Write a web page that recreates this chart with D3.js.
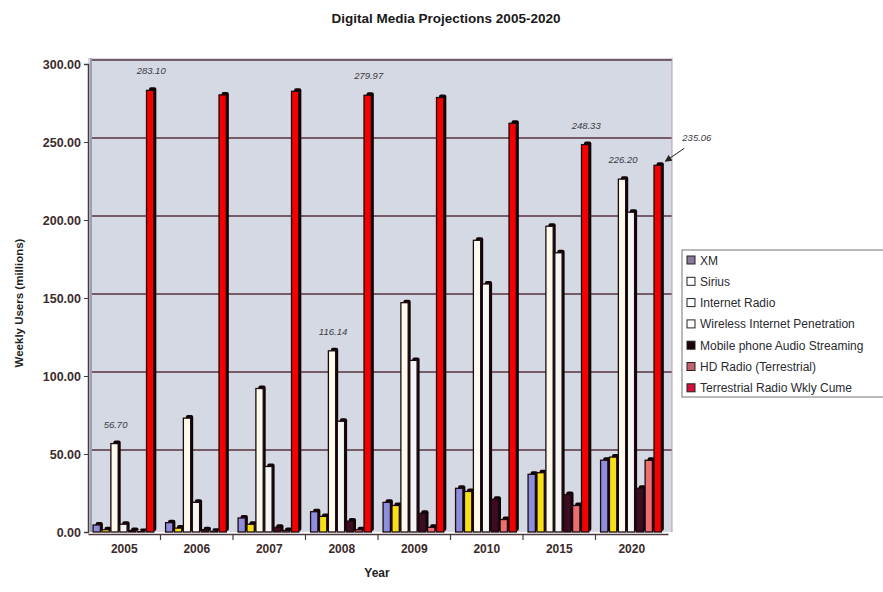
<!DOCTYPE html>
<html>
<head>
<meta charset="utf-8">
<script src="https://cdn.jsdelivr.net/npm/d3@7"></script>
<style>
  html, body { margin: 0; padding: 0; background: #ffffff; }
  svg { display: block; font-family: "Liberation Sans", Arial, sans-serif; }
</style>
</head>
<body>
<svg id="chart" width="883" height="592"></svg>
<script>
// Weekly users (millions) per audio platform, 2005-2020
const years = ["2005", "2006", "2007", "2008", "2009", "2010", "2015", "2020"];
const seriesNames = [
  "XM",
  "Sirius",
  "Internet Radio",
  "Wireless Internet Penetration",
  "Mobile  phone Audio Streaming",
  "HD Radio (Terrestrial)",
  "Terrestrial Radio Wkly Cume"
];
const xm          = [4.5, 6, 9, 13, 19, 28, 37, 46];
const sirius      = [1.5, 2.5, 5, 10, 17, 26, 38, 48];
const internet    = [56.70, 73, 92, 116.14, 147, 187, 196, 226.20];
const wireless    = [5, 19, 42, 71, 110, 159, 179, 205];
const mobile      = [1, 1.5, 3, 7, 12, 21, 24, 28];
const hdRadio     = [0.3, 0.5, 1, 1.5, 3, 8, 17, 46];
const terrestrial = [283.10, 280.2, 282.5, 279.97, 278.5, 262, 248.33, 235.06];
const yTicks = [0, 50, 100, 150, 200, 250, 300];

// Values printed above individual bars: [series index, year index]
const valueLabels = [[2, 0], [6, 0], [2, 3], [6, 3], [6, 6], [2, 7]];
// Value called out with an arrow to the right of the plot
const calloutLabel = [6, 7];

const seriesValues = [xm, sirius, internet, wireless, mobile, hdRadio, terrestrial];
const barColors = ["#8e8edc", "#f7e018", "#fffbec", "#f3f6f4", "#3c0c22", "#ee6e70", "#f50000"];
const swatchColors = ["#8a7a98", "#ffffff", "#ffffff", "#ffffff", "#1c0008", "#c2606e", "#d3103a"];

const svg = d3.select("#chart");
const plot = { left: 88, right: 668, top: 64, bottom: 532 };
const depth = 3;          // offset of the back wall / bar sides
const ink = "#3b2b2b";

const x0 = d3.scaleBand().domain(years).range([plot.left, plot.right])
  .paddingInner(0.14).paddingOuter(0.07);
const x1 = d3.scaleBand().domain(d3.range(seriesNames.length)).range([0, x0.bandwidth()]);
const y = d3.scaleLinear().domain([0, 300]).range([plot.bottom, plot.top]);

// Title
svg.append("text")
  .attr("x", 446).attr("y", 23)
  .attr("text-anchor", "middle")
  .attr("font-size", 13.5).attr("font-weight", "bold")
  .attr("fill", "#1a1a1a")
  .text("Digital Media Projections 2005-2020");

// Plot background (back wall)
svg.append("rect")
  .attr("x", plot.left).attr("y", plot.top - 6)
  .attr("width", plot.right - plot.left + 4)
  .attr("height", plot.bottom - plot.top + 6)
  .attr("fill", "#d5d9e3");

// Horizontal gridlines on the back wall
svg.append("g").selectAll("line")
  .data(yTicks.filter(d => d > 0))
  .join("line")
  .attr("x1", plot.left + depth).attr("x2", plot.right + 4)
  .attr("y1", d => y(d) - depth - 1).attr("y2", d => y(d) - depth - 1)
  .attr("stroke", "#56323f").attr("stroke-width", 1.5);

// Right edge of the wall
svg.append("line")
  .attr("x1", plot.right + 4).attr("x2", plot.right + 4)
  .attr("y1", plot.top - 6).attr("y2", plot.bottom)
  .attr("stroke", "#b89aa6").attr("stroke-width", 1);

// Y axis
const yAxis = d3.axisLeft(y).tickValues(yTicks).tickSize(4).tickPadding(3)
  .tickFormat(d3.format(".2f"));
const yg = svg.append("g").attr("transform", `translate(${plot.left},0)`).call(yAxis);
yg.select(".domain").attr("stroke", "#4a3a40").attr("stroke-width", 1.5);
yg.selectAll(".tick line").attr("stroke", "#4a3a40");
yg.selectAll(".tick text")
  .attr("font-size", 12.5).attr("font-weight", "bold").attr("fill", ink)
  .attr("font-family", "'Liberation Sans', Arial, sans-serif");
svg.append("line")
  .attr("x1", plot.left + 3).attr("x2", plot.left + 3)
  .attr("y1", plot.top - 6).attr("y2", plot.bottom)
  .attr("stroke", "#9aa0b4").attr("stroke-width", 2);

// X axis (category floor)
const xAxis = d3.axisBottom(x0).tickSize(0).tickPadding(10);
const xg = svg.append("g").attr("transform", `translate(0,${plot.bottom + 2})`).call(xAxis);
xg.select(".domain").attr("stroke", "#4a3a40").attr("stroke-width", 1.5);
xg.selectAll(".tick text")
  .attr("font-size", 12).attr("font-weight", "bold").attr("fill", ink)
  .attr("font-family", "'Liberation Sans', Arial, sans-serif");
// Category separators
svg.append("g").selectAll("line")
  .data(years.slice(1))
  .join("line")
  .attr("x1", d => x0(d) - x0.step() * x0.paddingInner() / 2)
  .attr("x2", d => x0(d) - x0.step() * x0.paddingInner() / 2)
  .attr("y1", plot.bottom + 2).attr("y2", plot.bottom + 8)
  .attr("stroke", "#4a3a40").attr("stroke-width", 1.2);

// Axis titles
svg.append("text")
  .attr("x", 377).attr("y", 577)
  .attr("text-anchor", "middle")
  .attr("font-size", 12).attr("font-weight", "bold").attr("fill", "#1e1e1e")
  .text("Year");
svg.append("text")
  .attr("transform", "translate(23,303) rotate(-90)")
  .attr("text-anchor", "middle")
  .attr("font-size", 11.5).attr("font-weight", "bold").attr("fill", "#1e1e1e")
  .text("Weekly Users (millions)");

// Bars with a dark side/top to give a shallow 3D look
const barRows = [];
years.forEach((yr, yi) => {
  seriesValues.forEach((vals, si) => {
    barRows.push({ year: yr, yi, si, value: vals[yi] });
  });
});
const side = 3;
const bodyW = x1.bandwidth() - 1.6;
const barG = svg.append("g");
const barSel = barG.selectAll("g.bar").data(barRows).join("g").attr("class", "bar");
barSel.append("rect")
  .attr("x", d => x0(d.year) + x1(d.si) + side - 0.5)
  .attr("y", d => y(d.value) - side)
  .attr("width", bodyW)
  .attr("height", d => Math.max(0, plot.bottom - y(d.value) + side - 1))
  .attr("rx", 2)
  .attr("fill", "#100306");
barSel.append("rect")
  .attr("x", d => x0(d.year) + x1(d.si))
  .attr("y", d => y(d.value))
  .attr("width", bodyW)
  .attr("height", d => Math.max(0, plot.bottom - y(d.value)))
  .attr("fill", d => barColors[d.si])
  .attr("stroke", "#1a0a0e").attr("stroke-width", 1.3);

// Value labels
const barCenter = (si, yi) => x0(years[yi]) + x1(si) + bodyW / 2 + 1;
svg.append("g").selectAll("text")
  .data(valueLabels)
  .join("text")
  .attr("x", d => barCenter(d[0], d[1]))
  .attr("y", d => y(seriesValues[d[0]][d[1]]) - 16)
  .attr("text-anchor", "middle")
  .attr("font-size", 9.5).attr("font-style", "italic").attr("fill", "#3a3a44")
  .text(d => seriesValues[d[0]][d[1]].toFixed(2));

// Callout with arrow
const cv = seriesValues[calloutLabel[0]][calloutLabel[1]];
const cx = x0(years[calloutLabel[1]]) + x1(calloutLabel[0]) + bodyW + 3;
const cy = y(cv) - 3;
svg.append("defs").append("marker")
  .attr("id", "arrowHead").attr("viewBox", "0 0 10 10")
  .attr("refX", 9).attr("refY", 5)
  .attr("markerWidth", 7).attr("markerHeight", 7)
  .attr("orient", "auto-start-reverse")
  .append("path").attr("d", "M0,0 L10,5 L0,10 z").attr("fill", "#222");
svg.append("line")
  .attr("x1", cx + 20).attr("y1", cy - 14)
  .attr("x2", cx + 1).attr("y2", cy - 1)
  .attr("stroke", "#222").attr("stroke-width", 1)
  .attr("marker-end", "url(#arrowHead)");
svg.append("text")
  .attr("x", cx + 18).attr("y", cy - 21)
  .attr("font-size", 9.5).attr("font-style", "italic").attr("fill", "#3a3a44")
  .text(cv.toFixed(2));

// Legend
const legend = svg.append("g").attr("transform", "translate(682,250)");
legend.append("rect")
  .attr("x", 0).attr("y", 0).attr("width", 205).attr("height", 147)
  .attr("fill", "#ffffff").attr("stroke", "#8c8c8c").attr("stroke-width", 1.2);
const items = legend.selectAll("g.item").data(seriesNames).join("g")
  .attr("class", "item")
  .attr("transform", (d, i) => `translate(5,${10 + i * 21.3})`);
items.append("rect")
  .attr("x", 0).attr("y", -4).attr("width", 8).attr("height", 8)
  .attr("fill", (d, i) => swatchColors[i])
  .attr("stroke", "#222").attr("stroke-width", 1);
items.append("text")
  .attr("x", 13).attr("y", 4.5)
  .attr("font-size", 12).attr("fill", "#2a2a30")
  .text(d => d);
</script>
</body>
</html>
